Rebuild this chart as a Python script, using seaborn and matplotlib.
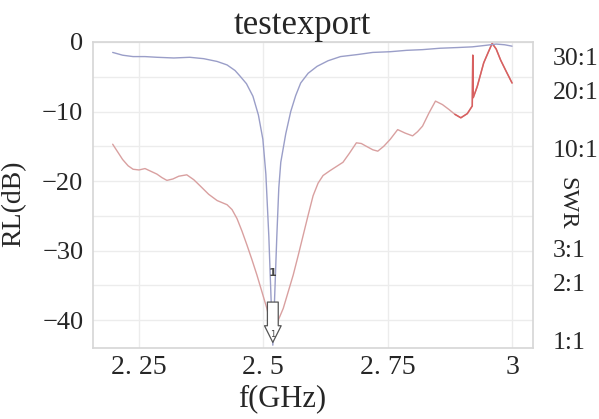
import numpy as np
import pandas as pd
import seaborn as sns
import matplotlib.pyplot as plt
from matplotlib.ticker import FixedLocator, FixedFormatter, NullLocator, MultipleLocator

# trace 1 (blue) - return loss, dB
freq_blue = [2.197, 2.217, 2.238, 2.262, 2.286, 2.32, 2.352, 2.38, 2.407, 2.427,
             2.443, 2.453, 2.466, 2.479, 2.49, 2.499, 2.505, 2.511, 2.516, 2.519,
             2.522, 2.527, 2.531, 2.535, 2.545, 2.555, 2.565, 2.575, 2.59, 2.608,
             2.63, 2.655, 2.69, 2.72, 2.755, 2.788, 2.82, 2.855, 2.89, 2.92,
             2.945, 2.968, 2.985, 3.0]
rl_blue = [-1.5, -1.9, -2.1, -2.1, -2.2, -2.3, -2.2, -2.4, -2.8, -3.3,
           -4.1, -4.9, -6.0, -7.8, -10.5, -14.0, -19.0, -28.0, -38.0, -43.6,
           -38.0, -28.0, -21.0, -17.3, -13.2, -10.0, -7.7, -5.9, -4.5, -3.5,
           -2.7, -2.1, -1.8, -1.5, -1.4, -1.2, -1.1, -0.9, -0.8, -0.7,
           -0.5, -0.3, -0.4, -0.6]

# trace 2 (red)
freq_red = [2.197, 2.207, 2.217, 2.228, 2.238, 2.25, 2.262, 2.274, 2.286, 2.296,
            2.306, 2.318, 2.33, 2.346, 2.36, 2.373, 2.39, 2.407, 2.427, 2.437,
            2.447, 2.457, 2.467, 2.477, 2.487, 2.497, 2.507, 2.514, 2.52, 2.527,
            2.54, 2.55, 2.56, 2.57, 2.58, 2.59, 2.6, 2.61, 2.62, 2.634,
            2.647, 2.66, 2.673, 2.687, 2.697, 2.707, 2.72, 2.73, 2.742, 2.755,
            2.77, 2.785, 2.8, 2.81, 2.82, 2.833, 2.846, 2.86, 2.873, 2.885,
            2.897, 2.91, 2.92, 2.921, 2.922, 2.93, 2.943, 2.952, 2.96, 2.968,
            2.977, 2.988, 3.0]
rl_red = [-14.7, -15.8, -16.9, -17.8, -18.3, -18.4, -18.2, -18.6, -19.0, -19.5,
          -19.9, -19.7, -19.3, -19.1, -19.8, -20.7, -21.9, -22.8, -23.4, -24.1,
          -25.4, -27.2, -29.2, -31.3, -33.5, -35.9, -38.3, -40.5, -42.0, -40.5,
          -38.3, -35.9, -33.5, -30.7, -27.8, -24.9, -22.1, -20.3, -19.2, -18.5,
          -17.9, -17.3, -16.0, -14.5, -14.6, -15.0, -15.5, -15.7, -15.0, -14.0,
          -12.6, -13.1, -13.5, -12.9, -12.1, -10.2, -8.5, -9.0, -9.7, -10.4,
          -10.9, -10.3, -9.2, -1.9, -8.0, -6.4, -3.0, -1.5, -0.2, -1.0,
          -2.6, -4.2, -5.9]

x_ticks = [2.25, 2.5, 2.75, 3.0]
x_labels = ["2. 25", "2. 5", "2. 75", "3"]
rl_ticks = [0, -10, -20, -30, -40]
swr_ticks = [1, 2, 3, 10, 20, 30]
swr_labels = ["1:1", "2:1", "3:1", "10:1", "20:1", "30:1"]

blue = pd.DataFrame({"f": freq_blue, "rl": rl_blue})
red = pd.DataFrame({"f": freq_red, "rl": rl_red})

sns.set_theme(style="whitegrid")
plt.rcParams["font.family"] = ["Liberation Serif", "DejaVu Serif"]
plt.rcParams["axes.unicode_minus"] = True

fig = plt.figure(figsize=(5.99, 4.19), dpi=100)
ax = fig.add_axes([0.1553, 0.1695, 0.7346, 0.7303])

sns.lineplot(data=red, x="f", y="rl", ax=ax, color="#d9a0a0", lw=1.0, sort=False)
sns.lineplot(data=red[red.f >= 2.88], x="f", y="rl", ax=ax, color="#d86060", lw=1.1, sort=False)
sns.lineplot(data=blue, x="f", y="rl", ax=ax, color="#9a9ec8", lw=1.0, sort=False)

ax.set_xlim(2.1575, 3.0422)
ax.set_ylim(-44, 0)
ax.xaxis.set_major_locator(FixedLocator(x_ticks))
ax.xaxis.set_major_formatter(FixedFormatter(x_labels))
ax.yaxis.set_major_locator(FixedLocator(rl_ticks))
ax.yaxis.set_minor_locator(MultipleLocator(5))
ax.grid(True, which="both", color="#ececec", lw=1)
ax.tick_params(axis="x", labelsize=20, pad=5, length=0)
ax.tick_params(axis="y", labelsize=19, pad=7, length=0, which="both")
for s in ax.spines.values():
    s.set_color("#d6d6d6")
    s.set_linewidth(1.2)

# marker 1 at the minimum of the blue trace
i = int(np.argmin(rl_blue))
mx, my = freq_blue[i], rl_blue[i]
ax.annotate("", xy=(mx, my), xytext=(mx, my + 6.6),
            arrowprops=dict(arrowstyle="simple,head_length=1.0,head_width=1.0,tail_width=0.65",
                            fc="white", ec="#555555", lw=0.9))
ax.text(mx, my + 10.4, "1", ha="center", va="center", fontsize=8,
        color="#444444", family="DejaVu Sans", weight="bold")
ax.text(mx, my + 1.6, "1", ha="center", va="center", fontsize=6,
        color="#444444", family="DejaVu Sans")

ax.set_title("testexport", fontsize=25, x=0.476, pad=2)
ax.set_xlabel("f(GHz)", fontsize=22, va="center")
ax.set_ylabel("RL(dB)", fontsize=20)
ax.xaxis.set_label_coords(0.43, -0.165)
ax.yaxis.set_label_coords(-0.152, 0.47)

# SWR axis on the right (log)
ax2 = ax.twinx()
ax2.set_yscale("log")
ax2.set_ylim(0.92, 35.5)
ax2.yaxis.set_major_locator(FixedLocator(swr_ticks))
ax2.yaxis.set_major_formatter(FixedFormatter(swr_labels))
ax2.yaxis.set_minor_locator(NullLocator())
ax2.grid(False)
ax2.tick_params(axis="y", labelsize=18.5, pad=14, length=0)
for s in ax2.spines.values():
    s.set_visible(False)
ax2.set_ylabel("SWR", fontsize=17.5, rotation=-90, va="center")
ax2.yaxis.set_label_coords(1.077, 0.474)

fig.savefig("out.png", dpi=100)
